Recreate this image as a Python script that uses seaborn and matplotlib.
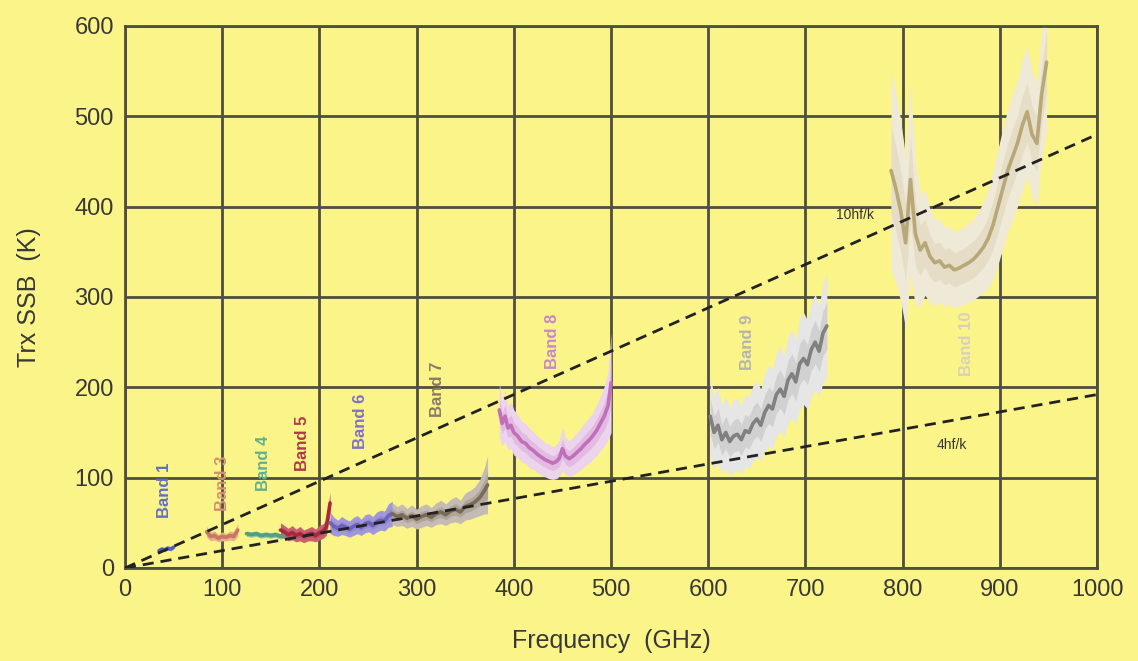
import matplotlib
matplotlib.use("Agg")
import matplotlib.pyplot as plt
import seaborn as sns
import pandas as pd

# receiver noise per ALMA band (GHz, K, half-width of spread)
f1 = [35, 38, 41, 44, 47, 50]
t1 = [19, 21, 20, 22, 21, 23]
s1 = [2, 2, 2, 2, 2, 2]

f3 = [84, 88, 92, 96, 100, 104, 108, 112, 116]
t3 = [40, 35, 36, 33, 35, 34, 36, 35, 42]
s3 = [6, 5, 5, 4, 5, 4, 5, 5, 7]

f4 = [125, 130, 135, 140, 145, 150, 155, 160, 163]
t4 = [38, 37, 38, 36, 37, 36, 37, 35, 36]
s4 = [3, 3, 3, 3, 3, 3, 3, 3, 3]

f5 = [160, 164, 168, 172, 176, 180, 184, 188, 192, 196, 200, 204, 207, 209, 211]
t5 = [42, 40, 37, 39, 36, 38, 35, 37, 38, 36, 39, 41, 45, 58, 72]
s5 = [8, 7, 7, 8, 7, 8, 7, 7, 8, 7, 8, 8, 9, 11, 12]

f6 = [211, 215, 219, 223, 227, 231, 235, 239, 243, 247, 251, 255, 259, 263, 267, 271, 275]
t6 = [50, 46, 44, 47, 45, 43, 46, 48, 45, 49, 50, 47, 51, 53, 52, 58, 60]
s6 = [12, 10, 9, 10, 9, 9, 10, 10, 9, 10, 10, 10, 11, 11, 11, 13, 14]

f7 = [275, 280, 285, 290, 295, 300, 305, 310, 315, 320, 325, 330, 335, 340, 345, 350, 355, 360, 365, 370, 373]
t7 = [60, 57, 59, 55, 58, 54, 57, 59, 56, 60, 62, 59, 63, 65, 62, 68, 70, 73, 78, 86, 92]
s7 = [12, 11, 12, 11, 12, 11, 12, 12, 11, 12, 13, 12, 13, 14, 13, 15, 16, 17, 20, 26, 32]

f8 = [385, 388, 391, 394, 397, 400, 404, 408, 412, 416, 420, 424, 428, 432, 436, 440,
      444, 447, 450, 453, 457, 461, 465, 469, 473, 477, 481, 485, 489, 493, 497, 500]
t8 = [175, 160, 168, 155, 158, 150, 146, 140, 138, 133, 130, 126, 123, 120, 118, 116,
      118, 122, 132, 124, 121, 124, 128, 132, 137, 141, 146, 152, 160, 168, 180, 205]
s8 = [30, 25, 28, 24, 26, 25, 24, 23, 22, 22, 21, 20, 20, 19, 19, 18,
      19, 20, 24, 20, 20, 21, 22, 23, 24, 25, 26, 28, 30, 33, 38, 55]

f9 = [602, 606, 610, 614, 618, 622, 626, 630, 634, 638, 642, 646, 650, 654, 658, 662,
      666, 670, 674, 678, 682, 686, 690, 694, 698, 702, 706, 710, 714, 718, 722]
t9 = [168, 150, 158, 142, 150, 140, 146, 148, 142, 152, 150, 160, 165, 158, 172, 180,
      176, 192, 198, 190, 208, 215, 206, 226, 232, 225, 242, 250, 240, 260, 268]
s9 = [45, 40, 42, 38, 40, 38, 40, 40, 38, 40, 40, 42, 42, 40, 43, 45,
      44, 46, 47, 45, 48, 49, 47, 50, 51, 49, 52, 53, 50, 55, 58]

f10 = [788, 793, 798, 803, 808, 813, 818, 823, 828, 833, 838, 843, 848, 853, 858, 863, 868,
       873, 878, 883, 888, 893, 898, 903, 908, 913, 918, 923, 928, 933, 938, 943, 948]
t10 = [440, 420, 395, 360, 430, 370, 352, 360, 345, 338, 340, 333, 335, 330, 332, 335, 338,
       342, 348, 355, 365, 380, 400, 420, 440, 455, 470, 490, 505, 480, 470, 525, 560]
s10 = [110, 105, 100, 95, 105, 80, 62, 58, 52, 48, 46, 44, 43, 42, 42, 43, 44,
       45, 47, 50, 55, 60, 64, 66, 68, 70, 70, 72, 72, 70, 68, 70, 75]

bands = ["Band 1", "Band 3", "Band 4", "Band 5", "Band 6", "Band 7", "Band 8", "Band 9", "Band 10"]
freqs = [f1, f3, f4, f5, f6, f7, f8, f9, f10]
trx = [t1, t3, t4, t5, t6, t7, t8, t9, t10]
spread = [s1, s3, s4, s5, s6, s7, s8, s9, s10]

line_colors = ["#5060b8", "#c87860", "#50a080", "#a82840", "#7060b8",
               "#7a6a58", "#c070b8", "#808080", "#b8a878"]
env_colors = ["#8090d0", "#e8b090", "#90c8a8", "#c86070", "#a098d8",
              "#c4bcb4", "#ecd4ec", "#e6e6e6", "#efe9d8"]
mid_colors = ["#6a7ac4", "#d89478", "#70b894", "#b84858", "#8a80cc",
              "#a09486", "#dcaadc", "#c4c4c4", "#e0d6bc"]
label_colors = ["#6070c0", "#d49070", "#60b090", "#b03848", "#8070c8",
                "#8a7a68", "#c888c8", "#b4b4b4", "#d8d0b8"]

# label positions (GHz, K)
label_x = [41, 100, 143, 183, 242, 321, 440, 640, 866]
label_y = [86, 94, 116, 138, 162, 198, 251, 250, 248]

# hf/k reference lines
hf_freq = [0, 1000]
hf10 = [0, 480]
hf4 = [0, 192]

rows = []
for b, f, t in zip(bands, freqs, trx):
    for x, y in zip(f, t):
        rows.append({"band": b, "freq": x, "trx": y})
df = pd.DataFrame(rows)

bg = "#fbf489"
gridc = "#4e4e42"
txt = "#383838"

sns.set_theme(style="white")
plt.rcParams["font.family"] = ["Liberation Sans", "DejaVu Sans"]

fig = plt.figure(figsize=(11.38, 6.61), dpi=100, facecolor=bg)
ax = fig.add_axes([0.1098, 0.1407, 0.8543, 0.82])
ax.set_facecolor(bg)

for f, t, s, ec, mc in zip(freqs, trx, spread, env_colors, mid_colors):
    lo = [a - b for a, b in zip(t, s)]
    hi = [a + b for a, b in zip(t, s)]
    ax.fill_between(f, lo, hi, color=ec, lw=0, zorder=2)
    lo2 = [a - 0.45 * b for a, b in zip(t, s)]
    hi2 = [a + 0.45 * b for a, b in zip(t, s)]
    ax.fill_between(f, lo2, hi2, color=mc, lw=0, zorder=2, alpha=0.6)

sns.lineplot(data=df, x="freq", y="trx", hue="band", hue_order=bands,
             palette=line_colors, estimator=None, sort=False, legend=False,
             lw=2.6, ax=ax, zorder=3)

ax.plot(hf_freq, hf10, ls=(0, (4, 2.5)), color="#222222", lw=2, zorder=4)
ax.plot(hf_freq, hf4, ls=(0, (4, 2.5)), color="#222222", lw=2, zorder=4)
ax.text(751, 391, "10hf/k", fontsize=10, color="#333333", ha="center", va="center", zorder=5)
ax.text(851, 136, "4hf/k", fontsize=10, color="#333333", ha="center", va="center", zorder=5)

for b, x, y, c in zip(bands, label_x, label_y, label_colors):
    ax.text(x, y, b, rotation=90, fontsize=12, fontweight="bold", color=c,
            ha="center", va="center", zorder=5)

ax.set_xlim(0, 1000)
ax.set_ylim(0, 600)
ax.set_xticks([0, 100, 200, 300, 400, 500, 600, 700, 800, 900, 1000])
ax.set_yticks([0, 100, 200, 300, 400, 500, 600])
ax.grid(True, color=gridc, lw=2, zorder=1)
ax.set_axisbelow(True)
for sp in ax.spines.values():
    sp.set_color(gridc)
    sp.set_linewidth(2)
ax.tick_params(length=0, labelsize=17, colors=txt, pad=8)
ax.set_xlabel("Frequency  (GHz)", fontsize=18, color=txt, labelpad=20)
ax.set_ylabel("Trx SSB  (K)", fontsize=18, color=txt, labelpad=24)

fig.savefig("out.png", dpi=100, facecolor=bg)
